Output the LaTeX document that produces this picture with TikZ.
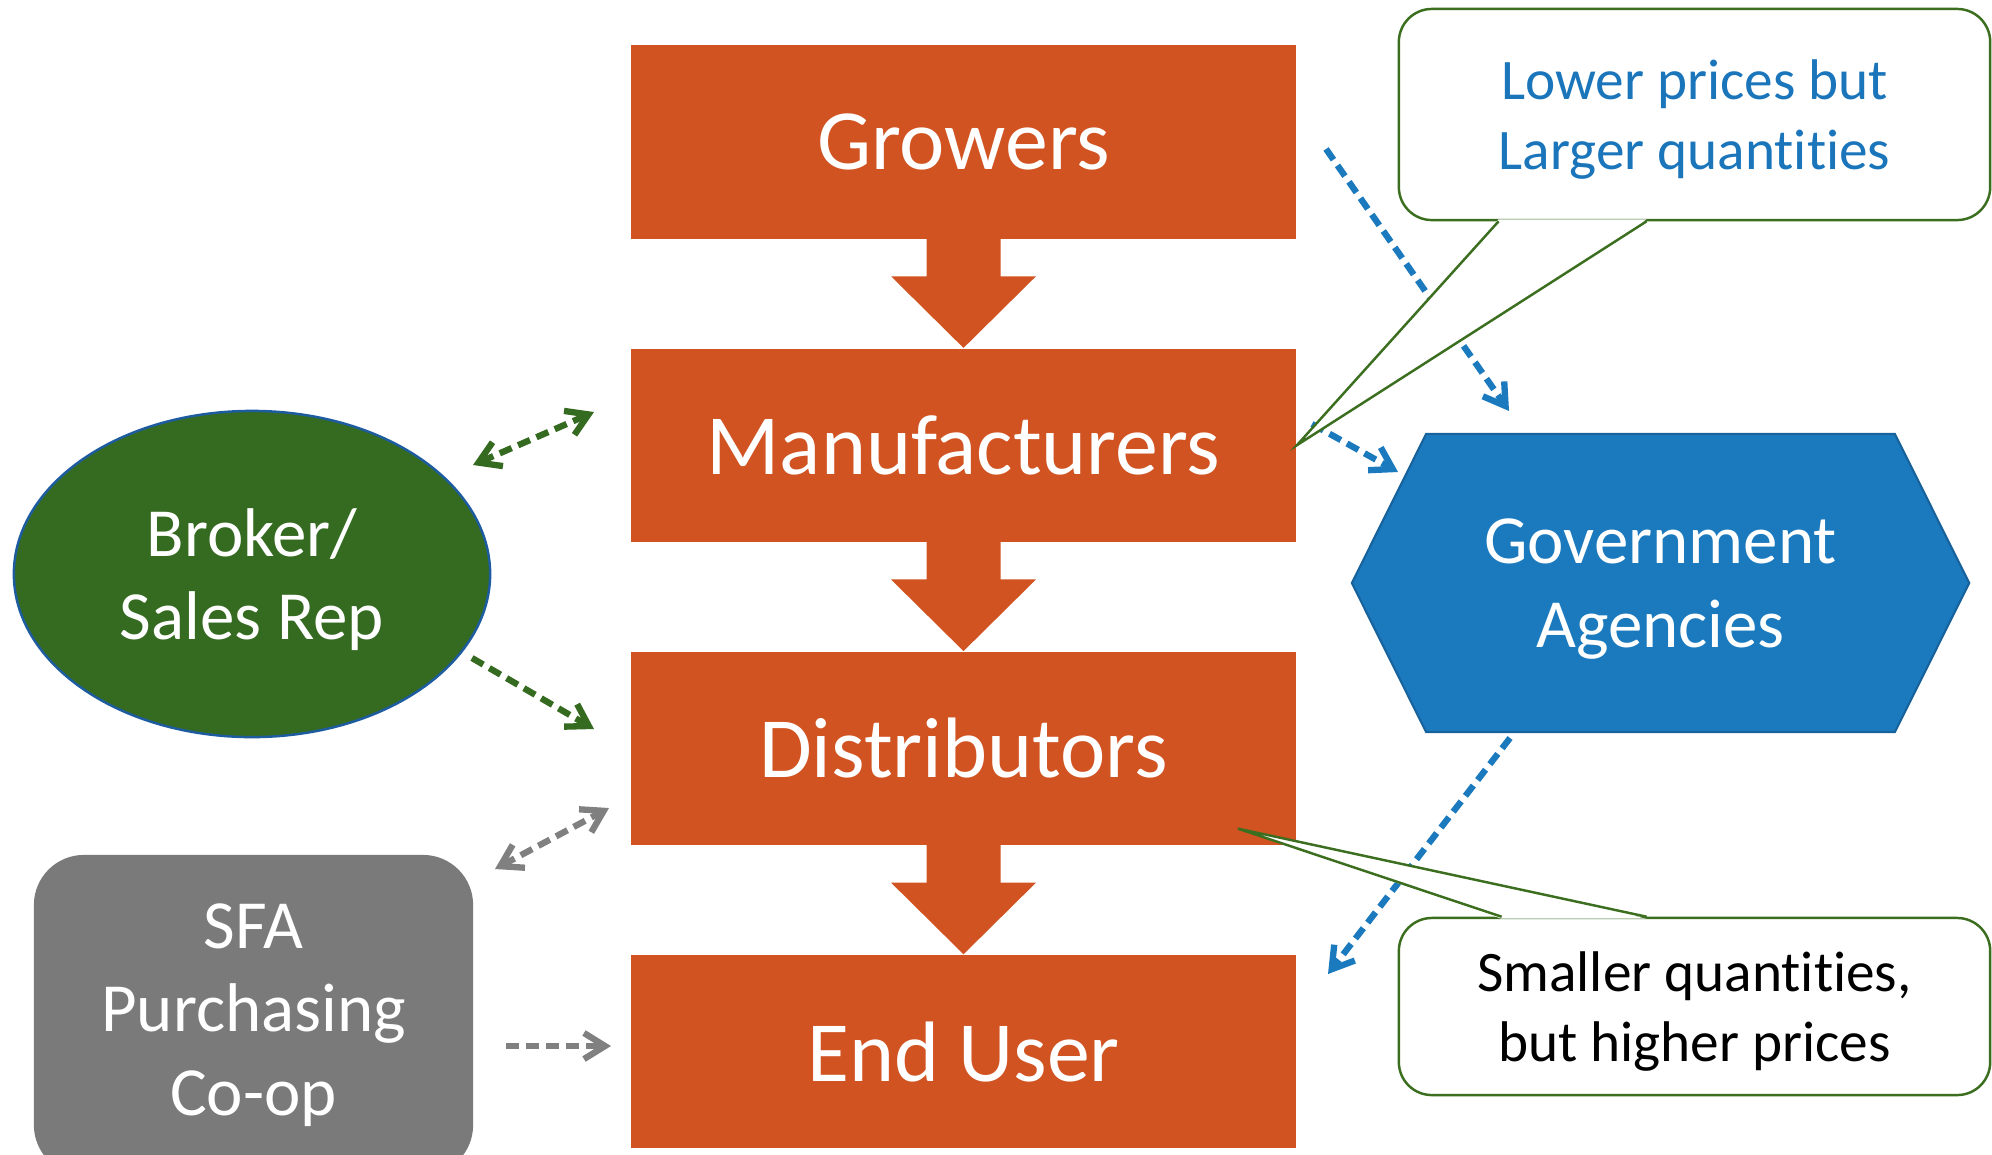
\documentclass[tikz,border=0pt]{standalone}
\usepackage{fontspec}
\setmainfont[Ligatures=NoCommon]{Carlito}
\usepackage{tikz}
\usetikzlibrary{calc,shapes.geometric,shapes.symbols,arrows.meta}

\definecolor{chainorange}{RGB}{209,83,33}
\definecolor{govblue}{RGB}{27,122,190}
\definecolor{govedge}{RGB}{24,98,155}
\definecolor{brokergreen}{RGB}{53,106,33}
\definecolor{brokeredge}{RGB}{30,92,160}
\definecolor{coopgray}{RGB}{122,122,122}
\definecolor{notegreen}{RGB}{60,110,32}
\definecolor{noteblue}{RGB}{27,117,187}
\definecolor{linkgray}{RGB}{128,128,128}

\tikzstyle{block} = [rectangle, fill=chainorange, text=white, minimum width=6.65cm, minimum height=1.93cm, font=\fontsize{24.4}{29}\selectfont]
\tikzstyle{broker} = [ellipse, fill=brokergreen, draw=brokeredge, line width=0.7pt, text=white, text depth=0pt, minimum width=4.76cm, minimum height=3.26cm, align=center, font=\fontsize{19.6}{23.8}\selectfont]
\tikzstyle{coop} = [rectangle, rounded corners=0.5cm, fill=coopgray, text=white, minimum width=4.39cm, minimum height=3.2cm, align=center, font=\fontsize{19.6}{23.8}\selectfont]
\tikzstyle{agency} = [signal, signal to=west and east, signal pointer angle=127, fill=govblue, draw=govedge, line width=0.6pt, text=white, text depth=0pt, minimum width=6.17cm, minimum height=2.98cm, align=center, font=\fontsize{19.6}{23.8}\selectfont]
\tikzstyle{note} = [rectangle, rounded corners=0.33cm, draw=notegreen, fill=white, line width=0.7pt, text depth=0pt, minimum width=5.91cm, align=center, font=\fontsize{16.3}{19.9}\selectfont]
\tikzstyle{pointer} = [draw=notegreen, line width=0.7pt]
\tikzstyle{link} = [draw, line width=1.8pt, dash pattern=on 1.3mm off 0.7mm, >={Straight Barb[length=2.1mm,width=2.6mm]}]

\begin{document}
\begin{tikzpicture}[x=0.01cm, y=-0.01cm, node distance = 3.03cm]
    \useasboundingbox (0,0) rectangle (1992,1154);
    \clip (0,0) rectangle (1992,1154);

    \node [block] (grow) at (963.5,142) {Growers};
    \node [block, below of=grow] (manu) {Manufacturers};
    \node [block, below of=manu] (dist) {Distributors};
    \node [block, below of=dist] (user) {End User};

    \foreach \a/\b in {grow/manu, manu/dist, dist/user}
        \fill [chainorange] ($(\a.south)+(-37,-1)$) |- ($(\a.south)+(-72.5,37)$) -- (\b.north)
            -- ($(\a.south)+(72.5,37)$) -| ($(\a.south)+(37,-1)$) -- cycle;

    \node [broker] (broker) at (252,574) {Broker/\\Sales Rep};
    \node [coop] (coop) at (253.5,1015) {SFA\\Purchasing\\Co-op};
    \node [agency] (gov) at (1660.5,583) {Government\\Agencies};

    \draw [link, brokergreen, <->] (473,465) -- (594,412);
    \draw [link, brokergreen, ->] (472,658) -- (594,729);
    \draw [link, linkgray, <->] (495,869) -- (609,808);
    \draw [link, linkgray, ->] (506,1046) -- (611,1046);
    \draw [link, govblue, ->] (1326,149) -- (1509,411);
    \draw [link, govblue, ->] (1312,424) -- (1398,472);
    \draw [link, govblue, ->] (1510,738) -- (1328,974);

    \node [note, text=noteblue, minimum height=2.11cm] (lower) at (1694.5,114.5) {Lower prices but\\Larger quantities};
    \coordinate (l1) at ($(lower.south west)+(101,0)$);
    \coordinate (l2) at ($(lower.south west)+(249,0)$);
    \fill [white] ($(l1)+(0,-2)$) -- (manu.east) -- ($(l2)+(0,-2)$) -- cycle;
    \path [pointer] (l1) -- (manu.east) -- (l2);

    \node [note, minimum height=1.77cm] (higher) at (1694.5,1006.5) {Smaller quantities,\\but higher prices};
    \coordinate (dtip) at ($(dist.south east)+(-59,-17)$);
    \coordinate (h1) at ($(higher.north west)+(104,0)$);
    \coordinate (h2) at ($(higher.north west)+(249,0)$);
    \fill [white] ($(h1)+(0,2)$) -- (dtip) -- ($(h2)+(0,2)$) -- cycle;
    \path [pointer] (h1) -- (dtip) -- (h2);
\end{tikzpicture}
\end{document}
